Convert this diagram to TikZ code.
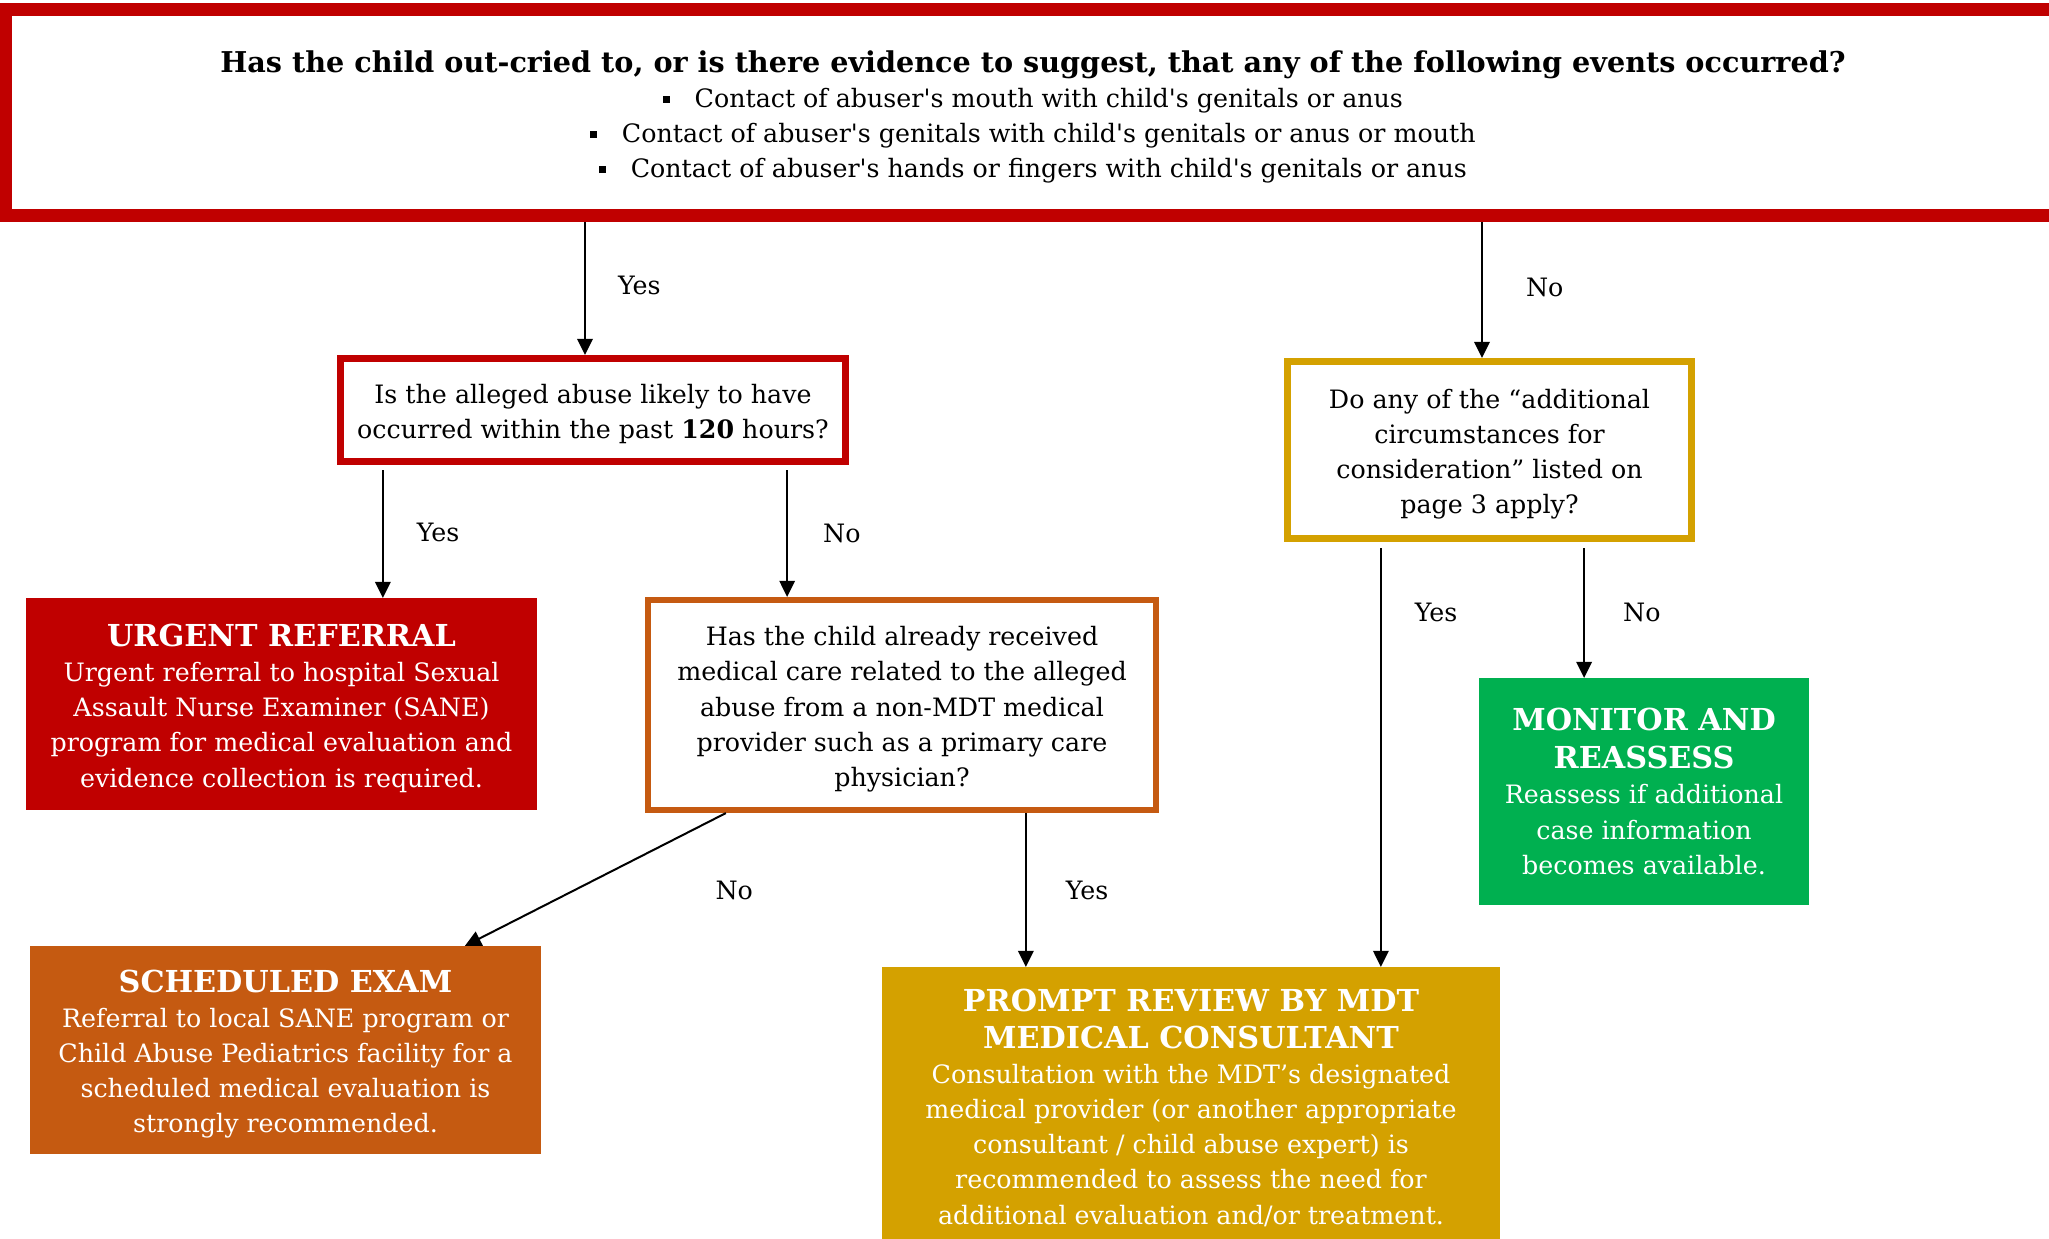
\documentclass[tikz,border=0pt]{standalone}
\usepackage{fontspec}
\setmainfont{DejaVu Serif}
\usetikzlibrary{calc}
\usetikzlibrary{arrows.meta}
\definecolor{darkred}{RGB}{192,0,0}
\definecolor{burnt}{RGB}{197,90,17}
\definecolor{gold}{RGB}{212,161,0}
\definecolor{leaf}{RGB}{0,176,80}
\newcommand{\sq}{\textquotesingle}
\newcommand{\sqbul}{\rule[0.35ex]{2pt}{2pt}\hspace{7pt}}
\newcommand{\bodyfont}{\fontsize{7.2}{10.0}\selectfont}
\newcommand{\topfont}{\bfseries\fontsize{8.15}{10.5}\selectfont}
\newcommand{\headfont}{\bfseries\fontsize{8.6}{10.6}\selectfont}
%struts that push the first line down a little
\newcommand{\bdrop}{\rule{0pt}{7.9pt}}
\newcommand{\hdrop}{\rule{0pt}{8.7pt}}
\tikzset{
  qbox/.style={draw, fill=white, align=center, inner sep=0pt, font=\bodyfont},
  abox/.style={draw=#1, fill=#1, text=white, line width=0.01cm, align=center, inner sep=0pt, font=\bodyfont},
  arr/.style={-{Triangle[length=4.6pt,width=4.4pt]}, line width=0.02cm},
  lbl/.style={inner sep=0pt, font=\bodyfont}
}

\begin{document}
\begin{tikzpicture}[x=0.01cm,y=-0.01cm]
        \useasboundingbox (0,0) rectangle (2049,1238);
        %top question
        \node[qbox, draw=darkred, line width=0.13cm, minimum width=20.53cm, minimum height=2.06cm] (events) at (1033,112.5)
          {{\topfont\hdrop Has the child out-cried to, or is there evidence to suggest, that any of the following events occurred?}\\
           \sqbul Contact of abuser\sq s mouth with child\sq s genitals or anus\\
           \sqbul Contact of abuser\sq s genitals with child\sq s genitals or anus or mouth\\
           \sqbul Contact of abuser\sq s hands or fingers with child\sq s genitals or anus};
        %questions
        \node[qbox, draw=darkred, line width=0.07cm, minimum width=5.05cm, minimum height=1.03cm] (recent) at (593,410)
          {\bdrop Is the alleged abuse likely to have\\ occurred within the past \textbf{120} hours?};
        \node[qbox, draw=burnt, line width=0.06cm, minimum width=5.08cm, minimum height=2.10cm] (priorcare) at (902,705)
          {\bdrop Has the child already received\\ medical care related to the alleged\\ abuse from a non-MDT medical\\ provider such as a primary care\\ physician?};
        \node[qbox, draw=gold, line width=0.07cm, minimum width=4.04cm, minimum height=1.77cm] (extra) at (1489.5,450)
          {\bdrop Do any of the “additional\\ circumstances for\\ consideration” listed on\\ page 3 apply?};
        %actions
        \node[abox=darkred, minimum width=5.10cm, minimum height=2.11cm] (urgent) at (281.5,704)
          {{\headfont\hdrop URGENT REFERRAL}\\ Urgent referral to hospital Sexual\\ Assault Nurse Examiner (SANE)\\ program for medical evaluation and\\ evidence collection is required.};
        \node[abox=burnt, minimum width=5.10cm, minimum height=2.07cm] (sched) at (285.5,1050)
          {{\headfont\hdrop SCHEDULED EXAM}\\ Referral to local SANE program or\\ Child Abuse Pediatrics facility for a\\ scheduled medical evaluation is\\ strongly recommended.};
        \node[abox=gold, minimum width=6.17cm, minimum height=2.72cm] (prompt) at (1191,1103.5)
          {{\headfont\hdrop PROMPT REVIEW BY MDT}\\[0.5pt] {\headfont MEDICAL CONSULTANT}\\ Consultation with the MDT’s designated\\ medical provider (or another appropriate\\ consultant / child abuse expert) is\\ recommended to assess the need for\\ additional evaluation and/or treatment.};
        \node[abox=leaf, minimum width=3.29cm, minimum height=2.26cm] (monitor) at (1644,791.5)
          {{\headfont MONITOR AND}\\[0.8pt] {\headfont REASSESS}\\ Reassess if additional\\ case information\\ becomes available.};
        %connectors
        \draw[arr] ($(recent.north)+(-8,0)$) coordinate (e1) (e1 |- events.south) -- (e1)
          node[lbl, pos=.48, right=0.32cm] (yes1) {Yes};
        \draw[arr] ($(extra.north)+(-7.5,0)$) coordinate (e2) (e2 |- events.south) -- (e2)
          node[lbl, pos=.48, right=0.43cm] (no1) {No};
        \draw[arr, shorten <=0.5mm] ($(recent.south west)+(46,0)$) coordinate (r1) (r1) -- (r1 |- urgent.north)
          node[lbl, pos=.51, right=0.33cm] (yes2) {Yes};
        \draw[arr, shorten <=0.5mm] ($(recent.south east)+(-62,0)$) coordinate (r2) (r2) -- (r2 |- priorcare.north)
          node[lbl, pos=.52, right=0.35cm] (no2) {No};
        \draw[arr, shorten <=0.6mm] ($(extra.south west)+(97,0)$) coordinate (x1) (x1) -- (x1 |- prompt.north)
          node[lbl, pos=.165, right=0.33cm] (yes3) {Yes};
        \draw[arr, shorten <=0.6mm] ($(extra.south east)+(-111,0)$) coordinate (x2) (x2) -- (x2 |- monitor.north)
          node[lbl, pos=.52, right=0.38cm] (no3) {No};
        \draw[arr] ($(priorcare.south west)+(381,0)$) coordinate (p1) (p1) -- (p1 |- prompt.north)
          node[lbl, pos=.5, right=0.39cm] (yes4) {Yes};
        \draw[arr] ($(priorcare.south west)+(81,0)$) -- ($(sched.north west)+(435,0)$)
          node[lbl, pos=.58, right=1.40cm] (no4) {No};
\end{tikzpicture}
\end{document}
